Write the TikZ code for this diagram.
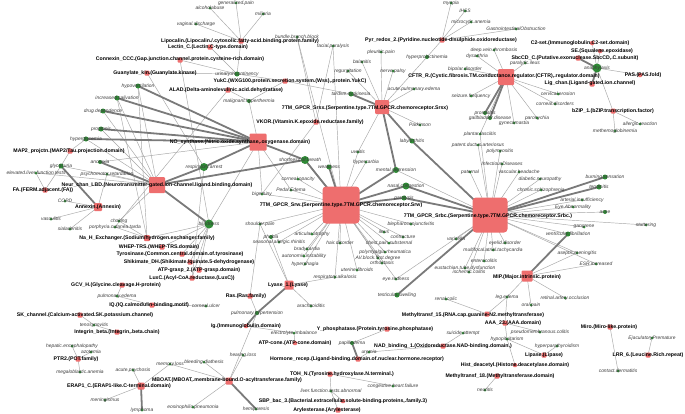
\documentclass[tikz,border=0pt]{standalone}
\usepackage{fontspec}
\setmainfont{Liberation Sans}
\definecolor{domred}{HTML}{EE6E6E}
\definecolor{phgreen}{HTML}{2F8A36}
\definecolor{edgethin}{HTML}{A6A6A6}
\definecolor{edgethick}{HTML}{7A7A7A}
\definecolor{labgray}{HTML}{3C3C3C}
\pgfdeclarelayer{bg}
\pgfsetlayers{bg,main}
\tikzset{
  dom/.style={rectangle, fill=domred, draw=none, minimum size=#1, inner sep=0pt, rounded corners=1pt},
  bigdom/.style={rectangle, fill=domred, draw=none, minimum size=#1, inner sep=0pt, rounded corners=3.5pt},
  phe/.style={circle, fill=phgreen, draw=none, minimum size=#1, inner sep=0pt},
  dlab/.style={inner sep=0pt, font=\fontsize{5.2}{6}\selectfont\bfseries, text=black},
  plab/.style={inner sep=0pt, font=\fontsize{4.9}{6}\selectfont\itshape, text=labgray},
  ed/.style={draw=edgethin, line width=0.45pt},
  edT/.style={draw=edgethick, line width=1.8pt},
}
\newcommand\Dm[7]{\node[dom=#4] (#1) at (#2,#3) {}; \node[dlab] (#1-l) at (#5,#6) {#7};}
\newcommand\Bd[7]{\node[bigdom=#4] (#1) at (#2,#3) {}; \node[dlab] (#1-l) at (#5,#6) {#7};}
\newcommand\Ph[5]{\node[phe=#4] (#1) at (#2,#3) {}; \node[plab] (#1-l) at (#2,#3) {#5};}
\begin{document}
\begin{tikzpicture}[x=1pt,y=-1pt]
\useasboundingbox (0,0) rectangle (685,413);
\begin{pgfonlayer}{bg}
\fill[white] (0,0) rectangle (685,413);
\end{pgfonlayer}
% ---------------- domains ----------------
\Dm{lip}{241}{41}{5}{240}{41}{Lipocalin.(Lipocalin./.cytosolic.fatty-acid.binding.protein.family)}
\Dm{lec}{210}{47}{5}{208}{47}{Lectin\_C.(Lectin.C-type.domain)}
\Dm{con}{180}{60}{5}{180}{59}{Connexin\_CCC.(Gap.junction.channel.protein.cysteine-rich.domain)}
\Dm{gua}{147}{73}{5}{155}{73}{Guanylate\_kin.(Guanylate.kinase)}
\Dm{yuk}{285}{81}{5}{290}{81}{YukC.(WXG100.protein.secretion.system.(Wss),.protein.YukC)}
\Dm{ala}{228}{90}{5}{226}{90}{ALAD.(Delta-aminolevulinic.acid.dehydratase)}
\Dm{srsx}{382}{107}{14}{365}{108}{7TM\_GPCR\_Srsx.(Serpentine.type.7TM.GPCR.chemoreceptor.Srsx)}
\Dm{vko}{316}{122}{5}{310}{122}{VKOR.(Vitamin.K.epoxide.reductase.family)}
\Dm{nos}{258}{142}{17}{240}{142}{NO\_synthase.(Nitric.oxide.synthase,.oxygenase.domain)}
\Dm{map}{70}{151}{5}{69}{151}{MAP2\_projctn.(MAP2/Tau.projection.domain)}
\Dm{neu}{157}{185}{16}{157}{185}{Neur\_chan\_LBD.(Neurotransmitter-gated.ion-channel.ligand.binding.domain)}
\Dm{fa}{45}{190}{5}{43}{190}{FA.(FERM.adjacent.(FA))}
\Dm{ann}{98}{207}{8}{98}{207}{Annexin.(Annexin)}
\Dm{nah}{147}{238}{6}{147}{238}{Na\_H\_Exchanger.(Sodium/hydrogen.exchanger.family)}
\Dm{whe}{162}{247}{5}{159}{247}{WHEP-TRS.(WHEP-TRS.domain)}
\Dm{tyr}{182}{254}{5}{180}{254}{Tyrosinase.(Common.central.domain.of.tyrosinase)}
\Dm{shi}{190}{262}{5}{189}{262}{Shikimate\_DH.(Shikimate./quinate.5-dehydrogenase)}
\Dm{atg}{199}{270}{5}{199}{270}{ATP-grasp\_2.(ATP-grasp.domain)}
\Dm{lux}{192}{278}{5}{192}{278}{LuxC.(Acyl-CoA.reductase.(LuxC))}
\Dm{gcv}{122}{285}{5}{116}{285}{GCV\_H.(Glycine.cleavage.H-protein)}
\Dm{iq}{152}{305}{5}{149}{305}{IQ.(IQ.calmodulin-binding.motif)}
\Dm{skc}{80}{315}{5}{85}{315}{SK\_channel.(Calcium-activated.SK.potassium.channel)}
\Dm{itg}{117}{332}{5}{117}{332}{Integrin\_beta.(Integrin,.beta.chain)}
\Dm{ptr}{78}{359}{5}{76}{359}{PTR2.(POT.family)}
\Dm{mbo}{229}{381}{7}{227}{380}{MBOAT.(MBOAT,.membrane-bound.O-acyltransferase.family)}
\Dm{era}{141}{386}{7}{119}{386}{ERAP1\_C.(ERAP1-like.C-terminal.domain)}
\Dm{ras}{250}{296}{5}{246}{296}{Ras.(Ras.family)}
\Dm{lya}{289}{285}{9}{288}{285}{Lyase\_1.(Lyase)}
\Dm{ig}{246}{326}{4}{246}{326}{Ig.(Immunoglobulin.domain)}
\Dm{yph}{387}{329}{5}{375}{329}{Y\_phosphatase.(Protein.tyrosine.phosphatase)}
\Dm{atc}{295}{343}{4}{295}{343}{ATP-cone.(ATP-cone.domain)}
\Dm{hor}{358}{359}{5}{357}{359}{Hormone\_recep.(Ligand-binding.domain.of.nuclear.hormone.receptor)}
\Dm{nad}{443}{346}{5}{443}{346}{NAD\_binding\_1.(Oxidoreductase.NAD-binding.domain.)}
\Dm{toh}{330}{374}{5}{342}{374}{TOH\_N.(Tyrosine.hydroxylase.N.terminal.)}
\Dm{sbp}{343}{401}{4}{343}{401}{SBP\_bac\_3.(Bacterial.extracellular.solute-binding.proteins,.family.3)}
\Dm{ary}{338}{410}{5}{327}{410}{Arylesterase.(Arylesterase)}
\Dm{mft}{487}{314}{5}{473}{315}{Methyltransf\_15.(RNA.cap.guanine-N2.methyltransferase)}
\Dm{aaa}{505}{323}{5}{513}{323}{AAA\_23.(AAA.domain)}
\Dm{lipa}{544}{355}{5}{544}{355}{Lipase.(Lipase)}
\Dm{his}{515}{365}{4}{515}{365}{Hist\_deacetyl.(Histone.deacetylase.domain)}
\Dm{mfe}{497}{376}{5}{500}{376}{Methyltransf\_18.(Methyltransferase.domain)}
\Dm{mir}{610}{327}{5}{609}{327}{Miro.(Miro-like.protein)}
\Dm{lrr}{648}{355}{5}{648}{355}{LRR\_6.(Leucine.Rich.repeat)}
\Dm{mip}{527}{276}{11}{527}{277}{MIP.(Major.intrinsic.protein)}
\Dm{pyr}{442}{40}{5}{441}{40}{Pyr\_redox\_2.(Pyridine.nucleotide-disulphide.oxidoreductase)}
\Dm{cft}{506}{77}{16}{504}{76}{CFTR\_R.(Cystic.fibrosis.TM.conductance.regulator.(CFTR),.regulator.domain)}
\Dm{ctwo}{592}{43}{4}{580}{43}{C2-set.(Immunoglobulin.C2-set.domain)}
\Dm{se}{600}{51}{4}{602}{51}{SE.(Squalene.epoxidase)}
\Dm{sbc}{578}{58}{5}{575}{58}{SbcCD\_C.(Putative.exonuclease.SbcCD,.C.subunit)}
\Dm{pas}{640}{75}{4}{643}{75}{PAS.(PAS.fold)}
\Dm{lig}{592}{84}{5}{590}{83}{Lig\_chan.(Ligand-gated.ion.channel)}
\Dm{bzi}{613}{111}{5}{613}{111}{bZIP\_1.(bZIP.transcription.factor)}
\Bd{srw}{341}{205}{37}{341}{205}{7TM\_GPCR\_Srw.(Serpentine.type.7TM.GPCR.chemoreceptor.Srw)}
\Bd{srb}{490}{215}{35}{488}{216}{7TM\_GPCR\_Srbc.(Serpentine.type.7TM.GPCR.chemoreceptor.Srbc.)}
% ---------------- phenotypes ----------------
\Ph{gpa}{236}{3}{3}{generalized.pain}
\Ph{alc}{210}{8}{3}{alcoholabuse}
\Ph{mil}{263}{14}{3}{miliaria}
\Ph{vag}{196}{24}{3}{vaginal.discharge}
\Ph{bbb}{297}{37}{3}{bundle.branch.block}
\Ph{fac}{333}{46}{3}{facial.paralysis}
\Ph{uri}{237}{74}{5}{urinary.incontinency}
\Ph{hyv}{138}{86}{5}{hypoventilation}
\Ph{isa}{117}{98}{5}{increased.salivation}
\Ph{dru}{103}{111}{5}{drug.dependence}
\Ph{pro}{101}{129}{5}{proptosis}
\Ph{hgl}{86}{139}{5}{hyperglycemia}
\Ph{mhy}{249}{101}{4}{malignant.hyperthermia}
\Ph{reg}{348}{71}{3}{regurgitation}
\Ph{bal}{362}{62}{3}{balanitis}
\Ph{ple}{381}{52}{3}{pleuritic.pain}
\Ph{ner}{393}{71}{3}{nerve.palsy}
\Ph{hpr}{427}{57}{4}{hyperprolactinemia}
\Ph{apu}{414}{89}{3}{acute.pulmonary.edema}
\Ph{tar}{351}{94}{5}{tardive.dyskinesia}
\Ph{par}{420}{125}{3}{Parkinson}
\Ph{myo}{451}{3}{3}{myopia}
\Ph{ihs}{465}{11}{3}{IHSS}
\Ph{mca}{471}{22}{3}{microcytic.anemia}
\Ph{gio}{516}{29}{3}{GastrointestinalObstruction}
\Ph{dvt}{494}{50}{3}{deep.vein.thrombosis}
\Ph{dys}{477}{56}{3}{dysarthria}
\Ph{pil}{525}{63}{3}{paralytic.ileus}
\Ph{bip}{465}{69}{3}{bipolar.disorder}
\Ph{sei}{471}{96}{3}{seizure.frequency}
\Ph{pst}{485}{113}{4}{prostatitis}
\Ph{gal}{490}{118}{4}{gallbladder.disease}
\Ph{gyn}{514}{123}{3}{gynecomastia}
\Ph{pny}{537}{118}{3}{paronychia}
\Ph{cod}{555}{104}{3}{corneal.disorders}
\Ph{cer}{558}{94}{3}{cervical.erosion}
\Ph{ana}{597}{68}{9}{anaphylaxis}
\Ph{all}{640}{124}{3}{allergic.reaction}
\Ph{met}{615}{131}{3}{methemoglobinemia}
\Ph{pfa}{480}{134}{3}{plantar.fasciitis}
\Ph{ano}{100}{162}{4}{anorexia}
\Ph{gly}{61}{166}{5}{glycosuria}
\Ph{elf}{36}{173}{3}{elevated.liver.function.tests}
\Ph{psy}{107}{174}{3}{psychomotor.retardation}
\Ph{cop}{65}{201}{3}{COPD}
\Ph{vas}{51}{219}{3}{vasculitis}
\Ph{sia}{70}{229}{3}{sialadenitis}
\Ph{cho}{119}{221}{3}{choking}
\Ph{por}{115}{227}{3}{porphyria.cutanea.tarda}
\Ph{rar}{204}{167}{8}{respiratory.arrest}
\node[phe=8] (sob) at (305,160) {}; \node[plab] (sob-l) at (300,160) {shortness.of.breath};
\Ph{wea}{329}{167}{5}{weakness}
\Ph{cop2}{298}{179}{3}{corneal.opacity}
\Ph{ped}{291}{190}{3}{Pedal.Edema}
\Ph{big}{262}{194}{3}{bigeminy}
\Ph{bli}{209}{224}{9}{blindness}
\Ph{sho}{260}{224}{3}{shoulder.pain}
\Ph{pho}{271}{237}{4}{phobia}
\Ph{art}{312}{234}{3}{articular.atrophy}
\Ph{sar}{279}{242}{3}{seasonal.allergic.rhinitis}
\Ph{hai}{340}{243}{3}{hair.disorder}
\Ph{bra}{307}{249}{3}{bradycardia}
\Ph{aut}{304}{256}{3}{autonomic.instability}
\Ph{hph}{305}{264}{3}{hyperphagia}
\Ph{ute}{357}{270}{3}{uterine.fibroids}
\Ph{ral}{335}{277}{3}{respiratory.alkalosis}
\Ph{eye}{396}{279}{3}{eye.redness}
\Ph{tes}{397}{295}{5}{testicular.swelling}
\Ph{uve}{358}{152}{3}{uveitis}
\Ph{hca}{366}{162}{3}{hypercarbia}
\Ph{men}{396}{170}{6}{mental.depression}
\Ph{nas}{406}{186}{7}{nasal.congestion}
\Ph{prl}{404}{198}{5}{paralysis}
\Ph{ble}{411}{224}{3}{blepharoconjunctivitis}
\Ph{ile}{384}{232}{3}{ileus}
\Ph{cot}{403}{237}{3}{contracture}
\Ph{che}{389}{243}{3}{chest.pain.substernal}
\Ph{pmr}{385}{252}{3}{polymyalgia.rheumatica}
\Ph{avb}{378}{258}{3}{AV.block.first.degree}
\Ph{ort}{382}{263}{3}{orthostasis}
\Ph{lab}{412}{141}{5}{labyrinthitis}
\Ph{pda}{478}{145}{3}{patent.ductus.arteriosus}
\Ph{pmy}{500}{151}{3}{polymyositis}
\Ph{inf}{502}{164}{3}{InfectiousDiseases}
\Ph{pat}{470}{172}{3}{paternal}
\Ph{vhe}{519}{172}{3}{vascular.headache}
\Ph{dne}{540}{179}{3}{diabetic.neuropathy}
\Ph{csc}{541}{190}{3}{chronic.schizophrenia}
\Ph{bur}{605}{177}{5}{burning.sensation}
\Ph{ten}{599}{187}{5}{tendinitis}
\Ph{ain}{582}{200}{3}{arterial.insufficiency}
\Ph{eab}{573}{207}{3}{Eye.Abnormality}
\Ph{acn}{605}{212}{4}{acne}
\Ph{stu}{646}{225}{3}{stuttering}
\Ph{gan}{584}{227}{3}{gangrene}
\Ph{vfi}{568}{234}{5}{ventricular.fibrillation}
\Ph{ase}{577}{253}{3}{aseptic.meningitis}
\Ph{esr}{596}{264}{3}{ESR.increased}
\Ph{var}{456}{239}{3}{varicella}
\Ph{eyl}{505}{243}{3}{eyelid.disorder}
\Ph{mfa}{493}{250}{3}{multifocal.atrial.tachycardia}
\Ph{ent}{484}{261}{3}{enterocolitis}
\Ph{eus}{465}{268}{3}{eustachian.tube.dysfunction}
\Ph{isc}{469}{272}{3}{ischemic.colitis}
\Ph{pue}{117}{296}{3}{pulmonary.edema}
\Ph{cul}{206}{306}{3}{corneal.ulcer}
\Ph{teno}{94}{325}{3}{tenosynovitis}
\Ph{hen}{72}{346}{3}{hepatic.encephalopathy}
\Ph{azo}{91}{352}{3}{azotemia}
\Ph{mga}{80}{372}{3}{megaloblastic.anemia}
\Ph{acp}{133}{370}{3}{acute.psychosis}
\Ph{mem}{170}{364}{3}{memory.loss}
\Ph{bld}{204}{362}{3}{bleeding.diathesis}
\Ph{hea}{243}{355}{3}{hearing.loss}
\Ph{mgs}{105}{400}{3}{meningismus}
\Ph{lym}{142}{410}{3}{lymphoma}
\Ph{eos}{193}{407}{3}{eosinophilic.pneumonia}
\Ph{hem}{256}{409}{3}{hemiparesis}
\Ph{pht}{257}{313}{4}{pulmonary.hypertension}
\Ph{arc}{311}{306}{3}{arachnoiditis}
\Ph{ele}{294}{333}{3}{electrolyte.imbalance}
\Ph{pap}{352}{343}{4}{papilledema}
\Ph{ure}{369}{352}{3}{uremia}
\Ph{sui}{463}{333}{3}{suicide.attempt}
\Ph{chf}{393}{386}{3}{congestive.heart.failure}
\Ph{lft}{331}{391}{3}{liver.function.tests.abnormal}
\Ph{ren}{446}{299}{3}{renal.colic}
\Ph{leg}{507}{297}{3}{leg.edema}
\Ph{rao}{565}{298}{3}{retinal.artery.occlusion}
\Ph{orp}{531}{305}{3}{oral.pain}
\Ph{pmc}{540}{332}{3}{pseudomembranous.colitis}
\Ph{hpi}{507}{339}{3}{hypopituitarism}
\Ph{hpt}{557}{346}{3}{hyperparathyroidism}
\Ph{neur}{485}{390}{3}{neuritis}
\Ph{ejp}{652}{338}{3}{EjaculatoryPremature}
\Ph{cde}{618}{371}{3}{contact.dermatitis}
% ---------------- edges ----------------
\begin{pgfonlayer}{bg}
\foreach \a/\b in {lip/gpa,lip/alc,lip/mil,lip/vag,lip/uri,lec/uri,con/uri,con/bli,gua/uri,gua/rar,
  yuk/uri,yuk/tar,yuk/mhy,ala/mhy,ala/por,vko/bbb,vko/fac,vko/big,
  srsx/apu,srsx/par,srsx/ple,srsx/bal,srsx/reg,srsx/ner,srsx/hpr,srsx/uve,
  pyr/myo,pyr/ihs,pyr/mca,pyr/gio,pyr/hpr,
  cft/bip,cft/dvt,cft/dys,cft/pil,cft/sei,cft/gyn,cft/pny,cft/cod,cft/cer,cft/pfa,
  ana/ctwo,ana/se,ana/pas,ana/bzi,bzi/all,bzi/met,
  nos/ano,nos/bli,nos/mhy,nos/big,nos/ped,
  neu/hyv,neu/isa,neu/dru,neu/pro,neu/hgl,neu/gly,neu/psy,neu/cho,neu/elf,
  map/hgl,map/gly,fa/elf,fa/gly,ann/cop,ann/vas,ann/sia,ann/psy,
  nah/hyv,nah/isa,nah/cho,nah/por,nah/bli,whe/bli,tyr/bli,shi/bli,atg/bli,lux/bli,lux/rar,
  gcv/pue,iq/pue,iq/cul,skc/teno,itg/teno,ptr/hen,ptr/azo,ptr/mga,
  era/acp,era/mem,era/mgs,mbo/bld,mbo/hea,mbo/eos,mbo/mem,mbo/pht,
  ras/pht,ras/sho,lya/arc,lya/ral,lya/sho,lya/pho,ig/ele,atc/ele,yph/pap,hor/ure,nad/ure,nad/sui,
  toh/chf,toh/lft,sbp/lft,ary/lft,mft/ren,mft/leg,aaa/leg,aaa/pmc,aaa/hpi,lipa/hpt,lipa/hpi,his/hpi,
  mfe/neur,mir/cde,lrr/ejp,mip/ase,mip/esr,mip/rao,mip/orp,mip/leg,
  srw/cop2,srw/ped,srw/big,srw/uve,srw/hca,srw/ble,srw/ile,srw/cot,srw/che,srw/pmr,srw/avb,srw/ort,
  srw/ute,srw/hai,srw/art,srw/bra,srw/aut,srw/hph,srw/ral,srw/sar,srw/pho,srw/sho,srw/eye,srw/bbb,srw/fac,
  srb/pfa,srb/pda,srb/pmy,srb/inf,srb/pat,srb/vhe,srb/dne,srb/csc,srb/ain,srb/eab,srb/acn,srb/stu,
  srb/gan,srb/vfi,srb/ase,srb/var,srb/eyl,srb/mfa,srb/ent,srb/eus,srb/isc,srb/men,srb/eye,srb/esr}
  \draw[ed] (\a.center) -- (\b.center);
\foreach \a/\b in {srsx/tar,srsx/lab,srsx/men,cft/pst,cft/gal,ana/sbc,ana/lig,
  nos/hyv,nos/isa,nos/dru,nos/pro,nos/hgl,nos/rar,nos/sob,neu/ano,neu/rar,neu/sob,neu/bli,ann/gly,
  era/lym,mbo/hem,lya/pht,ig/pht,hor/pap,mip/vfi,
  srw/wea,srw/sob,srw/men,srw/nas,srw/prl,srb/bur,srb/ten,srb/lab,srb/nas,srb/prl,srb/tes}
  \draw[edT] (\a.center) -- (\b.center);
\end{pgfonlayer}
\end{tikzpicture}
\end{document}
